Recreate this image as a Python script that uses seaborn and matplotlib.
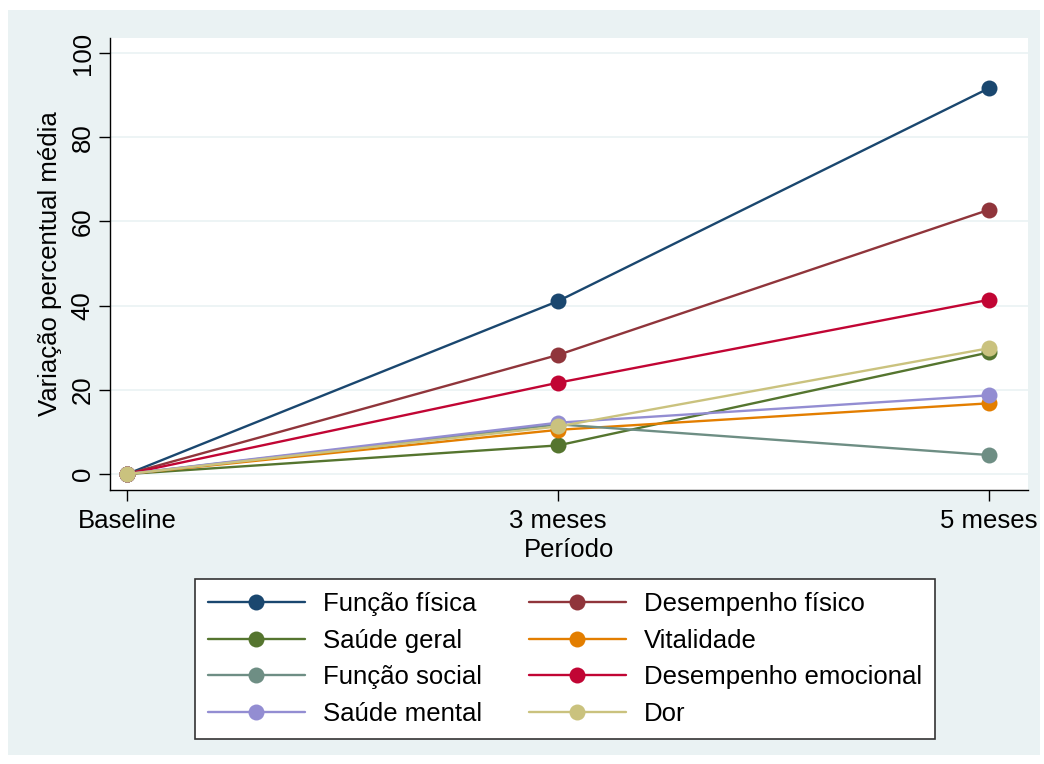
import matplotlib
matplotlib.use("Agg")
import matplotlib.pyplot as plt
from matplotlib.patches import Rectangle
import seaborn as sns
import pandas as pd

periods = ["Baseline", "3 meses", "5 meses"]
series_names = [
    "Função física", "Desempenho físico", "Saúde geral", "Vitalidade",
    "Função social", "Desempenho emocional", "Saúde mental", "Dor",
]
funcao_fisica = [0, 41.1, 91.7]
desempenho_fisico = [0, 28.3, 62.8]
saude_geral = [0, 6.8, 28.9]
vitalidade = [0, 10.5, 16.8]
funcao_social = [0, 11.8, 4.5]
desempenho_emocional = [0, 21.7, 41.4]
saude_mental = [0, 12.2, 18.7]
dor = [0, 11.3, 29.9]
y_ticks = [0, 20, 40, 60, 80, 100]

colors = ["#1a476f", "#90353b", "#55752f", "#e37e00",
          "#6e8e84", "#c10534", "#938dd2", "#cac27e"]

values = [funcao_fisica, desempenho_fisico, saude_geral, vitalidade,
          funcao_social, desempenho_emocional, saude_mental, dor]
rows = []
for name, vals in zip(series_names, values):
    for i, v in enumerate(vals):
        rows.append({"Série": name, "pos": i, "valor": v})
df = pd.DataFrame(rows)

sns.set_style("white")
plt.rcParams["font.family"] = ["Liberation Sans", "DejaVu Sans"]
plt.rcParams["text.color"] = "black"
plt.rcParams["axes.labelcolor"] = "black"
plt.rcParams["xtick.color"] = "black"
plt.rcParams["ytick.color"] = "black"
FS = 18.5

W, H = 1044, 764
fig = plt.figure(figsize=(W / 100, H / 100), dpi=100, facecolor="white")
fig.add_artist(Rectangle((8 / W, 1 - 755 / H), (1040 - 8) / W, (755 - 10) / H,
                         transform=fig.transFigure, facecolor="#eaf2f3",
                         edgecolor="none", zorder=0))
ax = fig.add_axes([110 / W, 1 - 490 / H, (1028 - 110) / W, (490 - 38) / H])
ax.set_facecolor("white")
ax.set_zorder(1)

sns.lineplot(data=df, x="pos", y="valor", hue="Série", hue_order=series_names,
             palette=colors, marker="o", markersize=11.5, markeredgewidth=0,
             linewidth=1.7, dashes=False, ax=ax, legend=True)

ax.set_xlim(-0.04, 2.09)
ax.set_ylim(-3.8, 103.6)
ax.set_xticks([0, 1, 2])
ax.set_xticklabels(periods, fontsize=FS)
ax.set_yticks(y_ticks)
ax.set_yticklabels([str(t) for t in y_ticks], fontsize=FS, rotation=90, va="center")
ax.grid(axis="y", color="#eaf2f3", linewidth=1.2)
ax.set_axisbelow(True)
for s in ["top", "right"]:
    ax.spines[s].set_visible(False)
for s in ["left", "bottom"]:
    ax.spines[s].set_color("black")
    ax.spines[s].set_linewidth(1.0)
ax.tick_params(axis="x", direction="out", length=8, width=1, color="black",
               bottom=True, pad=6)
ax.tick_params(axis="y", direction="out", length=8, width=1, color="black",
               left=True, pad=3)
ax.set_xlabel("Período", fontsize=FS, labelpad=3)
ax.set_ylabel("Variação percentual média", fontsize=FS, labelpad=6)

handles, labels = ax.get_legend_handles_labels()
hmap = dict(zip(labels, handles))
order = ["Função física", "Saúde geral", "Função social", "Saúde mental",
         "Desempenho físico", "Vitalidade", "Desempenho emocional", "Dor"]
ax.legend_.remove()
leg = fig.legend([hmap[o] for o in order], order, ncol=2, fontsize=FS,
                 loc="center", bbox_to_anchor=(565 / W, 1 - 659 / H),
                 frameon=True, fancybox=False, edgecolor="#333333",
                 facecolor="white", framealpha=1, handlelength=3.8,
                 columnspacing=1.8, labelspacing=0.5, borderpad=0.5,
                 handletextpad=0.7)
leg.get_frame().set_linewidth(1.2)

fig.savefig("out.png", dpi=100, facecolor="white")
